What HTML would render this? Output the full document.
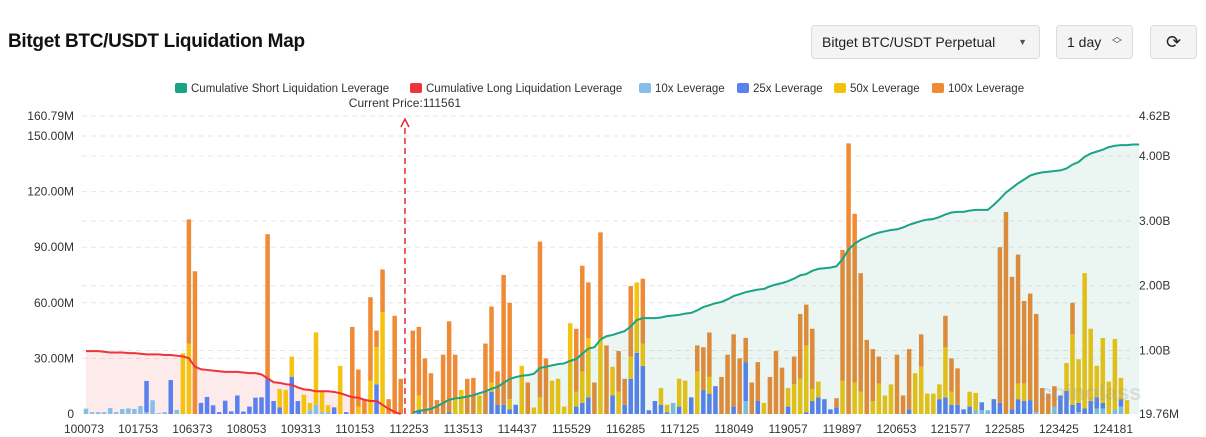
<!DOCTYPE html>
<html><head><meta charset="utf-8">
<style>
body{margin:0;width:1206px;height:437px;background:#fff;font-family:"Liberation Sans",sans-serif;overflow:hidden;position:relative}
.title{position:absolute;left:8px;top:31px;font-size:19px;font-weight:bold;color:#111;letter-spacing:-0.3px}
.sel{position:absolute;top:25px;height:34px;border:1px solid #dcdcdc;border-radius:4px;background:#f4f4f5;font-size:14px;color:#222;box-sizing:border-box;line-height:32px}
svg{position:absolute;left:0;top:0}
</style></head><body>
<div class="title">Bitget BTC/USDT Liquidation Map</div>
<div class="sel" style="left:811px;width:229px;padding-left:10px">Bitget BTC/USDT Perpetual<span style="position:absolute;right:12px;top:0;font-size:9px;color:#555">▼</span></div>
<div class="sel" style="left:1056px;width:77px;padding-left:10px">1 day<span style="position:absolute;right:10px;top:-1px;font-size:10px;color:#555;line-height:8px;padding-top:9px">︿<br>﹀</span></div>
<div class="sel" style="left:1150px;width:47px;text-align:center;font-size:18px">⟳</div>
<svg id="chart" width="1206" height="437"></svg>
<script>
const xLabels=["100073","101753","106373","108053","109313","110153","112253","113513","114437","115529","116285","117125","118049","119057","119897","120653","121577","122585","123425","124181"];
const leftTicks=[0,30,60,90,120,150];
const rightTicks=[1,2,3,4];
const lev10=[2.9,1,1,1,3.2,1,2.7,3,2.7,4.3,1,7.4,0.5,1,0,2.2,0,0,0,0,0,0,0,0,0,0,0,0,0,0,0,0,0,0,0,0,0,2,5,1,1,0,0,0,0,0,0,0,0,0,0,0,0,0,0,0,0,0,0,0,0,0,0,0,0,0,0,0,0,0,0,0,0,0,0,0,0,0,0,0,0,0,0,0,0,0,0,0,0,0,0,0,0,0,0,0,0,6,0,0,0,0,0,0,0,0,0,0,0,7,0,0,0,0,0,0,0,0,0,0,0,0,0,0,0,0,0,0,0,0,0,0,0,0,0,0,0,0,0,0,0,0,0,0,0,0,0,2,2,2,0,0,0,0,0,0,0,1,0,0,4,0,0,0,1,0,0,3,3,0,2.5,4,0];
const lev25=[0,0,0,0,0,0,0,0,0,0,16.8,0,0,0,18.3,0,0,0,0,6,9.2,4.7,1,7.2,1.4,10,1.3,4,8.8,9,19,7,3.6,0,20,7,0,0,0,0,0,3.6,0,1,0,0,0,0,16,0,0,0,0,0,0,2,0,0,0,0,1,0,0,0,0,0,0,12,5,5,2.5,5,0,0,0,0,0,0,0,0,0,4,6,9,0,0,0,10,0,5,19,33,26,2,7,5,1,0,4,0,9,0,13,11,15,0,0,4,0,21,0,7,0,0,0,0,4,0,0,1,7,9,8,2.5,3.6,0,0,0,0,0,0,0,0,0,0,0,2.5,0,0,0,0,8,9,5,5,2.5,4,0,4.3,0,8,6,0,2.5,8,7,7.5,0,0,0,0,10,12.5,5,5,3,7,6,3,0,0,4,0,5,0];
const lev50=[0,0,0,0,0,0,0,0,0,0,0,0,0,0,0,0,32.7,38,0,0,0,0,0,0,0,0,0,0,0,0,0,0,9.9,13,11,0,10.4,4,39,11,3.7,0,26,0,0,4,0,18,20,55,0,0,0,0,0,8,0,0,0,0,0,8,13,0,0,10,0,5,0,0,5.5,0,26,0,3.5,9,0,18,19,4,49,8,17,32,0,41,0,15.5,12,0,12,38,12,0,0,9,4,0,15,18,0,23,0,9,0,0,0,0,0,0,0,0,6,0,0,0,10,16,19,36,6.5,8.5,0,0,0,18,0,17,12,0,7,16.5,10,16,0,0,0,22,25.5,11,11,8,27,7,0,0,8,9.4,0,0,0,0,0,0,8.5,9.5,0,0,0,0,0,0,15,38,23.6,73,39,17,35,17.5,38,11.5,7.5,0,5];
const lev100=[0,0,0,0,0,0,0,0,0,0,0,0,0,0,0,0,0,67,77,0,0,0,0,0,0,0,0,0,0,0,78,0,0,0,0,0,0,0,0,0,0,0,0,0,47,20,8,45,9,23,8,53,19,0,45,37,30,22,7.5,32,49,24,0,19,19.5,0,38,41,18,70,52,0,0,17,0,84,30,0,0,0,0,34,57,30,17,57,37,0,22,14,38,0,35,0,0,0,0,0,0,0,0,14,23,24,0,20,32,39,30,13,17,21,0,20,34,25,0,15,35,22,32.5,0,0,0,4.9,70.5,146,91,64,40,28,14.5,0,0,32,10,32.5,0,17.5,0,0,0,17,18,19.6,0,0,0,0,0,0,84,109,71.5,69.5,44.5,57.5,53,14,11,11,0,0,17,0,0,0,0,0,0,0,0,0,0];
const cumLong=[0.99,0.99,0.99,0.98,0.97,0.97,0.97,0.96,0.96,0.95,0.94,0.94,0.94,0.93,0.93,0.92,0.91,0.88,0.75,0.71,0.70,0.69,0.68,0.67,0.67,0.67,0.66,0.65,0.65,0.63,0.57,0.51,0.50,0.48,0.47,0.43,0.40,0.39,0.37,0.37,0.37,0.36,0.34,0.31,0.28,0.27,0.24,0.22,0.22,0.16,0.10,0.05,0.02];
const cumShort=[0.04,0.07,0.08,0.10,0.14,0.19,0.24,0.26,0.27,0.29,0.31,0.34,0.37,0.41,0.44,0.50,0.56,0.59,0.61,0.62,0.64,0.73,0.75,0.77,0.79,0.80,0.84,0.87,0.95,1.03,1.05,1.17,1.22,1.24,1.27,1.30,1.37,1.47,1.50,1.50,1.50,1.51,1.53,1.54,1.55,1.57,1.58,1.62,1.67,1.70,1.73,1.75,1.79,1.84,1.87,1.90,1.92,1.94,1.95,1.99,2.02,2.04,2.07,2.11,2.16,2.18,2.23,2.26,2.27,2.28,2.30,2.41,2.56,2.65,2.71,2.75,2.79,2.82,2.84,2.86,2.87,2.90,2.94,2.97,3.00,3.02,3.03,3.06,3.10,3.13,3.14,3.14,3.16,3.17,3.17,3.17,3.25,3.34,3.44,3.51,3.58,3.64,3.70,3.73,3.75,3.76,3.77,3.78,3.81,3.87,3.91,3.99,4.04,4.07,4.10,4.14,4.16,4.17,4.17,4.18,4.18];
const shortStart=54;
const currentIdx=52.7;
const currentPrice="111561";

const NS="http://www.w3.org/2000/svg";
const svg=document.getElementById('chart');
const X0=86,X1=1127,Y0=414,YT=116,LMAX=160.79,RMIN=0.01976,RMAX=4.62;
const N=lev10.length;
const pitch=(X1-X0)/(N-1);
function xAt(i){return X0+i*pitch;}
function yL(v){return Y0-v*(Y0-YT)/LMAX;}
function yR(v){return Y0-(v-RMIN)*(Y0-YT)/(RMAX-RMIN);}
function mk(tag,attrs,parent){const e=document.createElementNS(NS,tag);for(const k in attrs)e.setAttribute(k,attrs[k]);(parent||svg).appendChild(e);return e;}
function txt(s,attrs){const t=mk('text',Object.assign({'font-family':'Liberation Sans, sans-serif','font-size':12,fill:'#333'},attrs));t.textContent=s;return t;}

leftTicks.concat([LMAX]).forEach(v=>{if(v===0)return;const g=mk('line',{x1:82,x2:1130,y1:yL(v),y2:yL(v),stroke:'#e6e6e6','stroke-dasharray':'5,4'});

});
rightTicks.forEach(v=>{const g=mk('line',{x1:82,x2:1130,y1:yR(v),y2:yR(v),stroke:'#e6e6e6','stroke-dasharray':'5,4'});

});

let dL='M'+xAt(0)+','+Y0;cumLong.forEach((v,i)=>{dL+=' L'+xAt(i)+','+yR(v);});dL+=' L'+xAt(cumLong.length-1)+','+Y0+'Z';
const la=mk('path',{d:dL,fill:'rgba(240,60,70,0.1)'});



const cols=['#86bfe6','#5b80ef','#f3c30f','#ef8a35'];
const series=[lev10,lev25,lev50,lev100];
for(let i=0;i<N;i++){let acc=0;for(let s=0;s<4;s++){const v=series[s][i];if(!v)continue;const y1=yL(acc),y2=yL(acc+v);acc+=v;
const r=mk('rect',{x:xAt(i)-2.25,y:y2,width:4.5,height:Math.max(0.5,y1-y2),fill:cols[s]});

}}

let dS='M'+xAt(shortStart)+','+Y0;cumShort.forEach((v,i)=>{dS+=' L'+xAt(shortStart+i)+','+yR(v);});dS+=' L'+xAt(shortStart+cumShort.length-1)+','+Y0+'Z';
const sa=mk('path',{d:dS,fill:'rgba(30,150,120,0.09)'});



let pL='';cumLong.forEach((v,i)=>{pL+=(i?' L':'M')+xAt(i)+','+yR(v);});
const ll=mk('path',{d:pL,fill:'none',stroke:'#f0323c','stroke-width':2});


let pS='';cumShort.forEach((v,i)=>{pS+=(i?' L':'M')+xAt(shortStart+i)+','+yR(v);});
const sl=mk('path',{d:pS,fill:'none',stroke:'#1aa385','stroke-width':2});



const cx=xAt(currentIdx);
const cl=mk('line',{x1:cx,x2:cx,y1:Y0,y2:YT+8,stroke:'#e8262e','stroke-width':1.5,'stroke-dasharray':'6,4'});


const ah=mk('path',{d:`M${cx-4},${YT+11} L${cx},${YT+3} L${cx+4},${YT+11}`,fill:'none',stroke:'#e8262e','stroke-width':1.5});


const cpt=txt('Current Price:'+currentPrice,{x:cx,y:107,'text-anchor':'middle'});



leftTicks.forEach(v=>{const t=txt(v===0?'0':v.toFixed(2)+'M',{x:74,y:yL(v)+4,'text-anchor':'end'});

});
const lt=txt(LMAX.toFixed(2)+'M',{x:74,y:yL(LMAX)+4,'text-anchor':'end'});


rightTicks.forEach(v=>{const t=txt(v.toFixed(2)+'B',{x:1139,y:yR(v)+4});

});
const rt=txt(RMAX.toFixed(2)+'B',{x:1139,y:yR(RMAX)+4});


const rb=txt('19.76M',{x:1139,y:Y0+4});


xLabels.forEach((s,k)=>{const t=txt(s,{x:84+k*(1113-84)/(xLabels.length-1),y:433,'text-anchor':'middle'});

});

const wm=txt('coinglass',{x:1040,y:400,'font-size':22,'font-weight':'bold',fill:'rgba(150,150,150,0.25)'});



const legItems=[['Cumulative Short Liquidation Leverage','#1aa385',175],['Cumulative Long Liquidation Leverage','#f0323c',410],['10x Leverage','#86bfe6',639],['25x Leverage','#5b80ef',737],['50x Leverage','#f3c30f',834],['100x Leverage','#ef8a35',932]];
legItems.forEach(it=>{const g=mk('g',{});


mk('rect',{x:it[2],y:83,width:12,height:10,rx:2,fill:it[1]},g);
const t=document.createElementNS(NS,'text');t.setAttribute('x',it[2]+16);t.setAttribute('y',92);t.setAttribute('font-size',11.5);t.setAttribute('fill','#333');t.setAttribute('font-family','Liberation Sans, sans-serif');t.textContent=it[0];g.appendChild(t);});
</script>
</body></html>
